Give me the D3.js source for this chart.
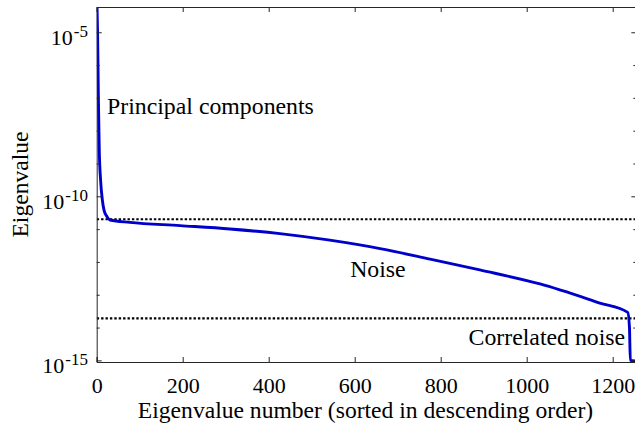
<!DOCTYPE html>
<html>
<head>
<meta charset="utf-8">
<script src="https://cdn.jsdelivr.net/npm/d3@7/dist/d3.min.js"></script>
<style>
  html, body { margin: 0; padding: 0; background: #fff; }
  svg { display: block; }
</style>
</head>
<body>
<svg id="chart" width="635" height="430"></svg>
<script>
// ---- data ----
const eigIndex = [0, 2, 4, 6, 9, 13, 17, 24, 31, 77, 194, 310, 426, 542, 659, 775, 891, 1031, 1170, 1235, 1239, 1241, 1255];
const eigValue = [2e-4, 1e-5, 8e-8, 2.5e-9, 3.2e-10, 8e-11, 3.8e-11, 2.4e-11, 1.9e-11, 1.61e-11, 1.28e-11, 1.01e-11,
                  7.3e-12, 4.6e-12, 2.55e-12, 1.22e-12, 5.7e-13, 2.13e-13, 5.6e-14, 2.9e-14, 1e-14, 1e-15, 9.5e-16];
const thresholds = [2e-11, 1.9e-14];
const xTicks = [0, 200, 400, 600, 800, 1000, 1200];
const yMajorExp = [-15, -10, -5];
const yMinorExp = [-14, -13, -12, -11, -9, -8, -7, -6];
const annotations = [
  { text: "Principal components", x: 24, y: 10**-7.5, anchor: "start" },
  { text: "Noise", x: 654, y: 10**-12.45, anchor: "middle" },
  { text: "Correlated noise", x: 1229, y: 10**-14.53, anchor: "end" }
];

// ---- layout ----
const FONT = '"Liberation Serif", "Times New Roman", Times, serif';
const L = 96.7, R = 636.35, T = 7, B = 362;
const svg = d3.select("#chart").style("font-family", FONT);
const x = d3.scaleLinear().domain([0, 1255]).range([L, R]);
const y = d3.scaleLog().domain([10**-15.05, 10**-4.23]).range([B, T]);
const axisColor = "#262626";
const FS_TICK = 22, FS_LABEL = 23.6, FS_NOTE = 23.8, SUP = 17;

svg.append("defs").append("clipPath").attr("id", "clip")
  .append("rect").attr("x", L).attr("y", T).attr("width", R - L).attr("height", B - T);

// threshold lines
svg.append("g").attr("clip-path", "url(#clip)")
  .selectAll("line").data(thresholds).join("line")
  .attr("x1", L).attr("x2", R)
  .attr("y1", d => y(d)).attr("y2", d => y(d))
  .attr("stroke", "#000").attr("stroke-width", 2.2).attr("stroke-dasharray", "2.4,2");

// curve
const pts = eigIndex.map((d, i) => [d, eigValue[i]]);
const line = d3.line().x(d => x(d[0])).y(d => y(d[1])).curve(d3.curveMonotoneX);
svg.append("path").attr("clip-path", "url(#clip)")
  .datum(pts).attr("d", line)
  .attr("fill", "none").attr("stroke", "#0000cd").attr("stroke-width", 2.9)
  .attr("stroke-linejoin", "round");

// axes box
const gAx = svg.append("g");
const xb = gAx.append("g").attr("transform", `translate(0,${B})`)
  .call(d3.axisBottom(x).tickValues(xTicks).tickSize(-5).tickPadding(15.7).tickFormat(d3.format("d")));
const xt = gAx.append("g").attr("transform", `translate(0,${T})`)
  .call(d3.axisTop(x).tickValues(xTicks).tickSize(-5).tickFormat(""));
const yl = gAx.append("g").attr("transform", `translate(${L},0)`)
  .call(d3.axisLeft(y).tickValues(yMajorExp.map(e => 10 ** e)).tickSize(-5).tickFormat(""));
const ylm = gAx.append("g").attr("transform", `translate(${L},0)`)
  .call(d3.axisLeft(y).tickValues(yMinorExp.map(e => 10 ** e)).tickSize(-3).tickFormat(""));
const yr = gAx.append("g").attr("transform", `translate(${R},0)`)
  .call(d3.axisRight(y).tickValues(yMajorExp.map(e => 10 ** e)).tickSize(-5).tickFormat(""));
const yrm = gAx.append("g").attr("transform", `translate(${R},0)`)
  .call(d3.axisRight(y).tickValues(yMinorExp.map(e => 10 ** e)).tickSize(-3).tickFormat(""));

[xb, xt, yl, ylm, yr, yrm].forEach(g => {
  g.attr("font-family", null).attr("font-size", null);
  g.selectAll("path.domain").attr("stroke", axisColor).attr("stroke-width", 1);
  g.selectAll(".tick line").attr("stroke", axisColor).attr("stroke-width", 1);
});
[ylm, yrm].forEach(g => g.select("path.domain").remove());
xb.selectAll(".tick text").style("font-family", FONT).attr("font-size", FS_TICK).attr("fill", "#000");

// y tick labels (10^e)
const yLab = svg.append("g");
yMajorExp.forEach(e => {
  const t = yLab.append("text")
    .attr("x", 88).attr("y", y(10 ** e) + 13)
    .attr("text-anchor", "end").attr("font-size", FS_TICK)
    .style("font-family", FONT).attr("fill", "#000");
  t.append("tspan").text("10");
  t.append("tspan").attr("dx", 1).attr("dy", -8.5).attr("font-size", SUP).text(String(e));
});

// axis labels
svg.append("text").attr("x", (L + R) / 2 - 1).attr("y", 418)
  .attr("text-anchor", "middle").attr("font-size", FS_LABEL).style("font-family", FONT)
  .text("Eigenvalue number (sorted in descending order)");
svg.append("text").attr("transform", `translate(28,${(T + B) / 2}) rotate(-90)`)
  .attr("text-anchor", "middle").attr("font-size", FS_LABEL).style("font-family", FONT)
  .text("Eigenvalue");

// annotations
svg.append("g").selectAll("text").data(annotations).join("text")
  .attr("x", d => x(d.x)).attr("y", d => y(d.y))
  .attr("text-anchor", d => d.anchor).attr("font-size", FS_NOTE).style("font-family", FONT)
  .text(d => d.text);
</script>
</body>
</html>
